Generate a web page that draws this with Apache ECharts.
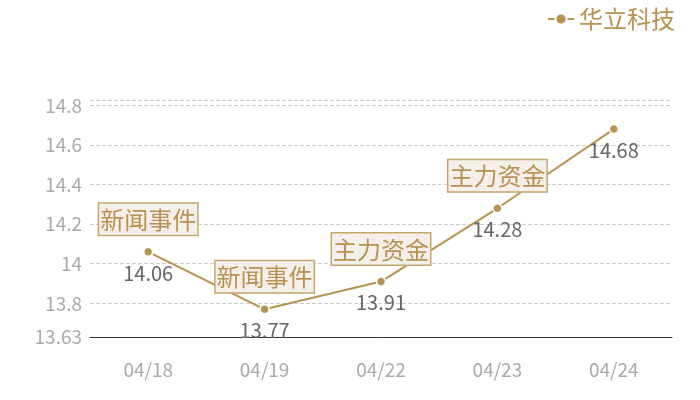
<!DOCTYPE html>
<html>
<head>
<meta charset="utf-8">
<script src="https://cdn.jsdelivr.net/npm/echarts@6/dist/echarts.min.js"></script>
<style>
    html, body { margin: 0; padding: 0; background: #fff; }
    #chart { width: 700px; height: 400px; }
</style>
</head>
<body>
<div id="chart"></div>
<script>
    // data
    var days = ['04/18', '04/19', '04/22', '04/23', '04/24'];
    var prices = [14.06, 13.77, 13.91, 14.28, 14.68];
    var eventDays = ['04/18', '04/19', '04/22', '04/23'];
    var eventNames = ['新闻事件', '新闻事件', '主力资金', '主力资金'];
    var stockName = '华立科技';

    var gold = '#b8924f';
    var font = '"Noto Sans CJK SC", "Noto Sans", sans-serif';

    var events = [];
    for (var i = 0; i < eventDays.length; i++) {
        var idx = days.indexOf(eventDays[i]);
        events.push({ coord: [eventDays[i], prices[idx]], value: eventNames[i] });
    }

    var chart = echarts.init(document.getElementById('chart'));
    chart.setOption({
        animation: false,
        textStyle: { fontFamily: font },
        legend: {
            data: [stockName],
            right: 20,
            top: 2,
            itemWidth: 26,
            itemHeight: 14,
            itemGap: 6,
            textStyle: { color: gold, fontSize: 24, fontFamily: font }
        },
        grid: { left: 90, right: 28, top: 100, bottom: 63 },
        xAxis: {
            type: 'category',
            data: days,
            boundaryGap: true,
            axisLine: { lineStyle: { color: '#333' } },
            axisTick: { show: false },
            axisLabel: { color: '#aaa', fontSize: 19, margin: 23, fontFamily: font }
        },
        yAxis: {
            type: 'value',
            min: function (v) { return +(v.min * 0.99).toFixed(2); },
            max: function (v) { return v.max * 1.01; },
            splitNumber: 6,
            axisLine: { show: false },
            axisTick: { show: false },
            axisLabel: { color: '#aaa', fontSize: 19, margin: 8, showMaxLabel: false, fontFamily: font },
            splitLine: { lineStyle: { color: '#ccc', type: 'dashed', width: 1 } }
        },
        series: [{
            name: stockName,
            type: 'line',
            data: prices,
            symbol: 'circle',
            symbolSize: 9,
            itemStyle: { color: gold, borderColor: '#fff', borderWidth: 1.5 },
            lineStyle: { color: gold, width: 2 },
            label: {
                show: true,
                position: 'bottom',
                distance: 6,
                color: '#666',
                fontSize: 20,
                fontFamily: font
            },
            markPoint: {
                symbol: 'circle',
                symbolSize: 0,
                data: events,
                label: {
                    show: true,
                    position: 'top',
                    distance: 17,
                    formatter: '{c}',
                    color: gold,
                    fontSize: 24,
                    fontFamily: font,
                    backgroundColor: '#f3efea',
                    borderColor: '#c8a46e',
                    borderWidth: 1.5,
                    padding: [4, 1, 3, 1]
                }
            }
        }]
    });
</script>
</body>
</html>
